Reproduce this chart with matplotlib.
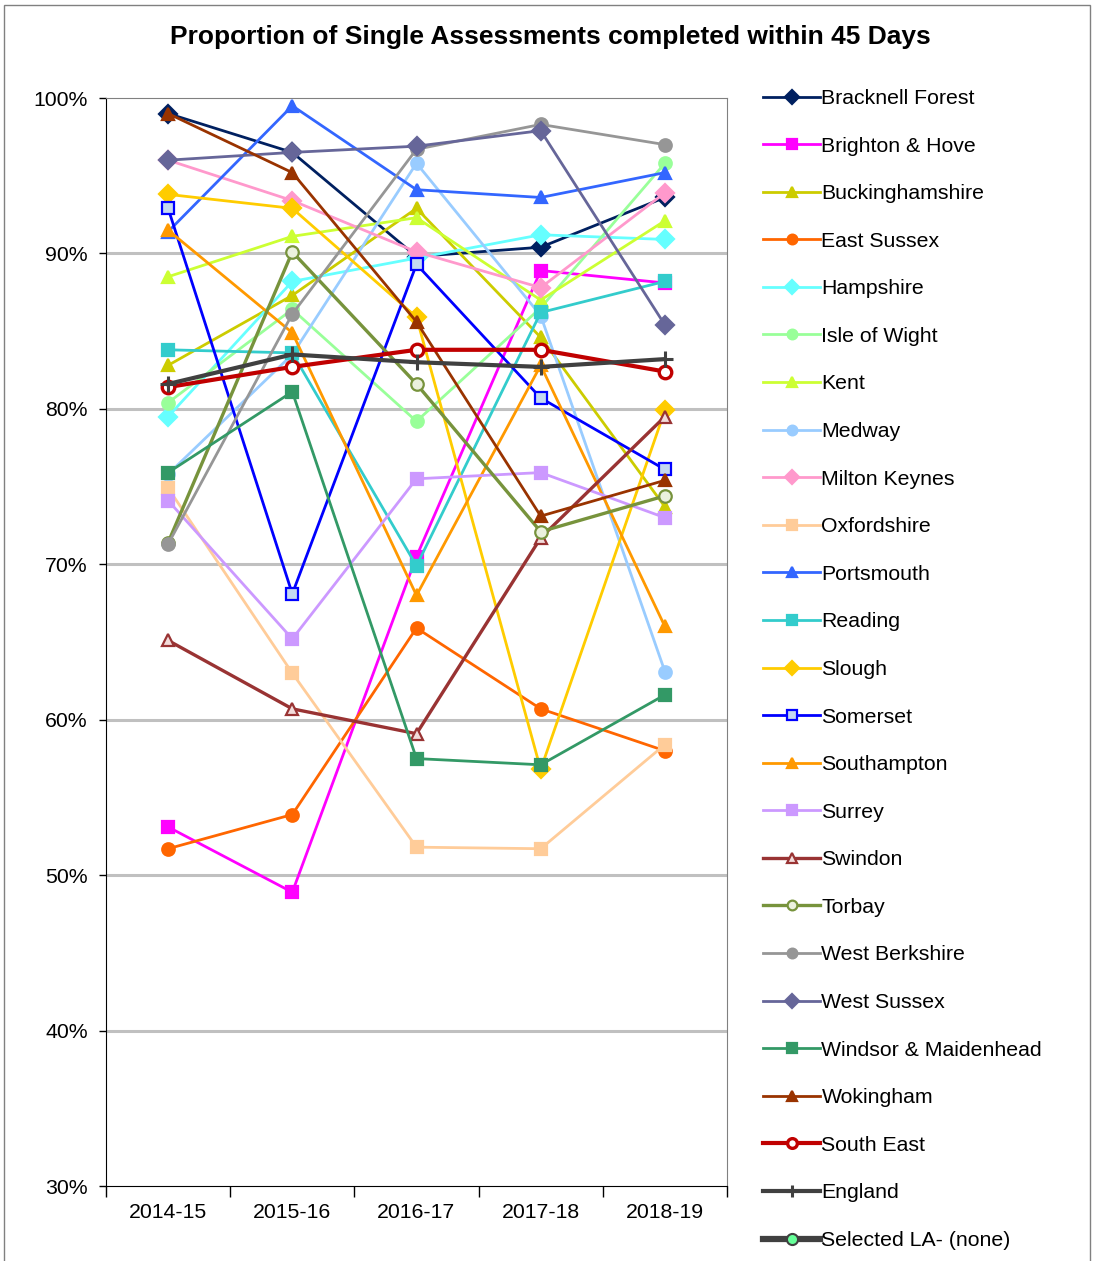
import matplotlib.pyplot as plt
from matplotlib.lines import Line2D
from matplotlib.patches import Rectangle

plt.rcParams["font.family"] = ["Liberation Sans", "DejaVu Sans"]

years = ["2014-15", "2015-16", "2016-17", "2017-18", "2018-19"]

bracknell_forest = [99.0, 96.5, 89.8, 90.4, 93.6]
brighton_hove = [53.1, 48.9, 70.5, 88.9, 88.1]
buckinghamshire = [82.8, 87.3, 92.9, 84.6, 73.7]
east_sussex = [51.7, 53.9, 65.9, 60.7, 58.0]
hampshire = [79.5, 88.2, 89.7, 91.2, 90.9]
isle_of_wight = [80.4, 86.4, 79.2, 86.5, 95.8]
kent = [88.5, 91.1, 92.3, 87.0, 92.1]
medway = [75.8, 83.5, 95.8, 86.0, 63.1]
milton_keynes = [96.0, 93.4, 90.1, 87.8, 93.9]
oxfordshire = [74.9, 63.0, 51.8, 51.7, 58.4]
portsmouth = [91.4, 99.5, 94.1, 93.6, 95.2]
reading = [83.8, 83.6, 69.9, 86.2, 88.2]
slough = [93.8, 92.9, 85.9, 56.8, 79.9]
somerset = [92.9, 68.1, 89.3, 80.7, 76.1]
southampton = [91.5, 84.9, 68.0, 82.8, 66.0]
surrey = [74.1, 65.2, 75.5, 75.9, 73.0]
swindon = [65.1, 60.7, 59.1, 71.7, 79.5]
torbay = [71.4, 90.1, 81.6, 72.1, 74.4]
west_berkshire = [71.3, 86.1, 96.7, 98.3, 97.0]
west_sussex = [96.0, 96.5, 96.9, 97.9, 85.4]
windsor_maidenhead = [75.9, 81.1, 57.5, 57.1, 61.6]
wokingham = [99.0, 95.2, 85.6, 73.1, 75.4]
south_east = [81.4, 82.7, 83.8, 83.8, 82.4]
england = [81.6, 83.5, 83.0, 82.7, 83.2]

# name, values, line colour, marker, marker face, marker edge, line width
series = [
    ("Bracknell Forest", bracknell_forest, "#002060", "D", "#002060", "#002060", 2.0),
    ("Brighton & Hove", brighton_hove, "#FF00FF", "s", "#FF00FF", "#FF00FF", 2.0),
    ("Buckinghamshire", buckinghamshire, "#CCCC00", "^", "#CCCC00", "#CCCC00", 2.0),
    ("East Sussex", east_sussex, "#FF6600", "o", "#FF6600", "#FF6600", 2.0),
    ("Hampshire", hampshire, "#66FFFF", "D", "#66FFFF", "#66FFFF", 2.0),
    ("Isle of Wight", isle_of_wight, "#99FF99", "o", "#99FF99", "#99FF99", 2.0),
    ("Kent", kent, "#CCFF33", "^", "#CCFF33", "#CCFF33", 2.0),
    ("Medway", medway, "#99CCFF", "o", "#99CCFF", "#99CCFF", 2.0),
    ("Milton Keynes", milton_keynes, "#FF99CC", "D", "#FF99CC", "#FF99CC", 2.0),
    ("Oxfordshire", oxfordshire, "#FFCC99", "s", "#FFCC99", "#FFCC99", 2.0),
    ("Portsmouth", portsmouth, "#3366FF", "^", "#3366FF", "#3366FF", 2.0),
    ("Reading", reading, "#33CCCC", "s", "#33CCCC", "#33CCCC", 2.0),
    ("Slough", slough, "#FFCC00", "D", "#FFCC00", "#FFCC00", 2.0),
    ("Somerset", somerset, "#0000FF", "s", "#C5D9F1", "#0000FF", 2.0),
    ("Southampton", southampton, "#FF9900", "^", "#FF9900", "#FF9900", 2.0),
    ("Surrey", surrey, "#CC99FF", "s", "#CC99FF", "#CC99FF", 2.0),
    ("Swindon", swindon, "#993333", "^", "#F2DCDB", "#993333", 2.4),
    ("Torbay", torbay, "#77933C", "o", "#EBF1DE", "#77933C", 2.4),
    ("West Berkshire", west_berkshire, "#969696", "o", "#969696", "#969696", 2.0),
    ("West Sussex", west_sussex, "#666699", "D", "#666699", "#666699", 2.0),
    ("Windsor & Maidenhead", windsor_maidenhead, "#339966", "s", "#339966", "#339966", 2.0),
    ("Wokingham", wokingham, "#993300", "^", "#993300", "#993300", 2.0),
    ("South East", south_east, "#C00000", "o", "white", "#C00000", 3.0),
    ("England", england, "#404040", "+", "#404040", "#404040", 3.0),
]

fig = plt.figure(figsize=(10.95, 12.61), dpi=100)
ax = fig.add_axes([106 / 1095, 1 - 1186 / 1261, 621 / 1095, 1088 / 1261])

x = list(range(len(years)))
handles = []
for name, vals, col, mk, face, edge, lw in series:
    ms = 9 if mk != "+" else 11
    mew = 1.6 if mk != "+" else 2.2
    if mk == "o" and face == "white":
        mew = 2.4
    ax.plot(x, vals, color=col, lw=lw, marker=mk, ms=ms, mfc=face, mec=edge,
            mew=mew, zorder=3)
    handles.append(Line2D([], [], color=col, lw=lw, marker=mk, ms=ms - 2,
                          mfc=face, mec=edge, mew=mew, label=name))
handles.append(Line2D([], [], color="#404040", lw=4.5, marker="o", ms=8,
                      mfc="#66FF99", mec="#404040", mew=1.5,
                      label="Selected LA- (none)"))

ax.set_ylim(30, 100)
ax.set_xlim(-0.5, 4.5)
ax.set_yticks(range(30, 101, 10))
ax.set_yticklabels([f"{v}%" for v in range(30, 101, 10)], fontsize=15.3)
for v in range(40, 100, 10):
    ax.axhline(v, color="#C0C0C0", lw=2.2, zorder=1)

# category labels centred, tick marks between categories
ax.set_xticks(x)
ax.set_xticklabels(years, fontsize=15.3)
ax.tick_params(axis="x", length=0, pad=12)
ax.set_xticks([i - 0.5 for i in range(6)], minor=True)
ax.tick_params(axis="x", which="minor", length=8, direction="out", width=1)
ax.tick_params(axis="y", length=5, width=1, pad=8)

ax.spines["top"].set_color("#808080")
ax.spines["right"].set_color("#808080")
ax.spines["left"].set_color("black")
ax.spines["bottom"].set_color("black")

fig.text(0.503, 1 - 37 / 1261, "Proportion of Single Assessments completed within 45 Days",
         ha="center", va="center", fontsize=19, fontweight="bold")

fig.legend(handles=handles, loc="upper left", bbox_to_anchor=(763 / 1095, 1 - 89 / 1261),
           frameon=False, fontsize=15.3, handlelength=2.7, handletextpad=0.05,
           labelspacing=1.345, borderaxespad=0, borderpad=0)

fig.patches.append(Rectangle((4 / 1095, -0.01), 1086 / 1095, 1 - 5 / 1261 + 0.01,
                             transform=fig.transFigure, fill=False,
                             edgecolor="#808080", lw=1))

fig.savefig("out.png", dpi=100, facecolor="white")
